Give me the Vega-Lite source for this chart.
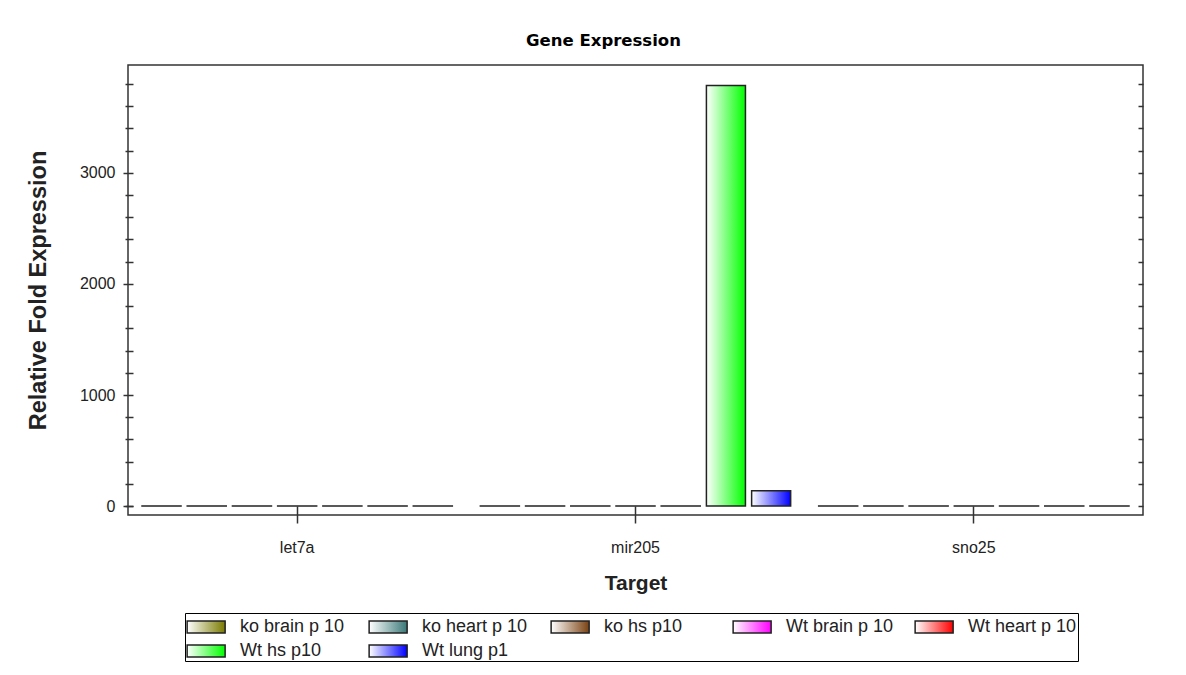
{
  "$schema": "https://vega.github.io/schema/vega-lite/v6.json",
  "width": 1015,
  "height": 450,
  "autosize": "none",
  "padding": {"left": 128, "top": 65, "right": 43, "bottom": 160},
  "background": "white",
  "title": {
    "text": "Gene Expression",
    "font": "DejaVu Sans",
    "fontSize": 16.5,
    "fontWeight": "bold",
    "color": "#000000",
    "anchor": "middle",
    "dx": -32,
    "offset": 16
  },
  "config": {
    "view": {"stroke": "#333333", "strokeWidth": 1.5},
    "axis": {
      "labelFont": "Liberation Sans",
      "labelFontSize": 16,
      "labelColor": "#222222",
      "titleFont": "Liberation Sans",
      "titleFontWeight": "bold",
      "titleColor": "#222222",
      "tickColor": "#333333",
      "tickWidth": 1.5,
      "domain": false,
      "grid": false
    }
  },
  "data": {
    "values": [
      {"Target": "let7a", "Sample": "ko brain p 10", "Expression": 1},
      {"Target": "let7a", "Sample": "ko heart p 10", "Expression": 1},
      {"Target": "let7a", "Sample": "ko hs p10", "Expression": 1},
      {"Target": "let7a", "Sample": "Wt brain p 10", "Expression": 1},
      {"Target": "let7a", "Sample": "Wt heart p 10", "Expression": 1},
      {"Target": "let7a", "Sample": "Wt hs p10", "Expression": 1},
      {"Target": "let7a", "Sample": "Wt lung p1", "Expression": 1},
      {"Target": "mir205", "Sample": "ko brain p 10", "Expression": 1},
      {"Target": "mir205", "Sample": "ko heart p 10", "Expression": 1},
      {"Target": "mir205", "Sample": "ko hs p10", "Expression": 1},
      {"Target": "mir205", "Sample": "Wt brain p 10", "Expression": 1},
      {"Target": "mir205", "Sample": "Wt heart p 10", "Expression": 1},
      {"Target": "mir205", "Sample": "Wt hs p10", "Expression": 3785},
      {"Target": "mir205", "Sample": "Wt lung p1", "Expression": 138},
      {"Target": "sno25", "Sample": "ko brain p 10", "Expression": 1},
      {"Target": "sno25", "Sample": "ko heart p 10", "Expression": 1},
      {"Target": "sno25", "Sample": "ko hs p10", "Expression": 1},
      {"Target": "sno25", "Sample": "Wt brain p 10", "Expression": 1},
      {"Target": "sno25", "Sample": "Wt heart p 10", "Expression": 1},
      {"Target": "sno25", "Sample": "Wt hs p10", "Expression": 1},
      {"Target": "sno25", "Sample": "Wt lung p1", "Expression": 1}
    ]
  },
  "resolve": {"scale": {"y": "shared"}, "axis": {"y": "independent"}},
  "layer": [
    {
      "mark": {"type": "bar", "stroke": "#222222", "strokeWidth": 1.5},
      "encoding": {
        "x": {
          "field": "Target",
          "type": "nominal",
          "sort": null,
          "scale": {"paddingInner": 0, "paddingOuter": 0},
          "axis": {
            "title": "Target",
            "titleFontSize": 21,
            "labelAngle": 0,
            "offset": -9,
            "tickSize": 17,
            "labelPadding": 16,
            "titlePadding": 17
          }
        },
        "xOffset": {
          "field": "Sample",
          "type": "nominal",
          "sort": null,
          "scale": {"paddingInner": 0.137, "paddingOuter": 0.31}
        },
        "y": {
          "field": "Expression",
          "type": "quantitative",
          "scale": {"domain": [-80, 3970], "nice": false, "zero": false},
          "axis": {
            "orient": "left",
            "title": "Relative Fold Expression",
            "titleFontSize": 23.5,
            "format": "d",
            "values": [0, 1000, 2000, 3000],
            "offset": -5,
            "tickSize": 10,
            "labelPadding": 8,
            "titlePadding": 29
          }
        },
        "fill": {
          "field": "Sample",
          "type": "nominal",
          "sort": null,
          "scale": {
            "domain": ["ko brain p 10", "ko heart p 10", "ko hs p10", "Wt brain p 10", "Wt heart p 10", "Wt hs p10", "Wt lung p1"],
            "range": [
              {"expr": "{gradient: 'linear', x1: 0, y1: 0, x2: 1, y2: 0, stops: [{offset: 0, color: '#ffffff'}, {offset: 1, color: '#7a7a00'}]}"},
              {"expr": "{gradient: 'linear', x1: 0, y1: 0, x2: 1, y2: 0, stops: [{offset: 0, color: '#ffffff'}, {offset: 1, color: '#3a7878'}]}"},
              {"expr": "{gradient: 'linear', x1: 0, y1: 0, x2: 1, y2: 0, stops: [{offset: 0, color: '#ffffff'}, {offset: 1, color: '#7a4212'}]}"},
              {"expr": "{gradient: 'linear', x1: 0, y1: 0, x2: 1, y2: 0, stops: [{offset: 0, color: '#ffffff'}, {offset: 1, color: '#ff00ff'}]}"},
              {"expr": "{gradient: 'linear', x1: 0, y1: 0, x2: 1, y2: 0, stops: [{offset: 0, color: '#ffffff'}, {offset: 1, color: '#ff0000'}]}"},
              {"expr": "{gradient: 'linear', x1: 0, y1: 0, x2: 1, y2: 0, stops: [{offset: 0, color: '#ffffff'}, {offset: 1, color: '#00ff00'}]}"},
              {"expr": "{gradient: 'linear', x1: 0, y1: 0, x2: 1, y2: 0, stops: [{offset: 0, color: '#ffffff'}, {offset: 1, color: '#0000ff'}]}"}
            ]
          },
          "legend": {
            "orient": "none",
            "legendX": 57,
            "legendY": 548,
            "title": null,
            "direction": "horizontal",
            "columns": 5,
            "gridAlign": "all",
            "columnPadding": 17,
            "rowPadding": 2,
            "padding": 1,
            "strokeColor": "#000000",
            "fillColor": "#ffffff",
            "symbolType": "M-1,-0.5H2.2V0.5H-1Z",
            "symbolSize": 564,
            "symbolStrokeColor": "#222222",
            "symbolStrokeWidth": 1.5,
            "labelOffset": 28,
            "labelFont": "Liberation Sans",
            "labelFontSize": 18,
            "labelColor": "#222222",
            "labelLimit": 300
          }
        }
      }
    },
    {
      "mark": {"type": "rule", "opacity": 0},
      "encoding": {
        "y": {
          "field": "Expression",
          "type": "quantitative",
          "axis": {
            "orient": "left",
            "title": null,
            "labels": false,
            "values": [0, 200, 400, 600, 800, 1200, 1400, 1600, 1800, 2200, 2400, 2600, 2800, 3200, 3400, 3600, 3800],
            "offset": -5,
            "tickSize": 8
          }
        }
      }
    },
    {
      "mark": {"type": "rule", "opacity": 0},
      "encoding": {
        "y": {
          "field": "Expression",
          "type": "quantitative",
          "axis": {
            "orient": "right",
            "title": null,
            "labels": false,
            "values": [0, 200, 400, 600, 800, 1000, 1200, 1400, 1600, 1800, 2000, 2200, 2400, 2600, 2800, 3000, 3200, 3400, 3600, 3800],
            "offset": -5,
            "tickSize": 5
          }
        }
      }
    }
  ]
}
